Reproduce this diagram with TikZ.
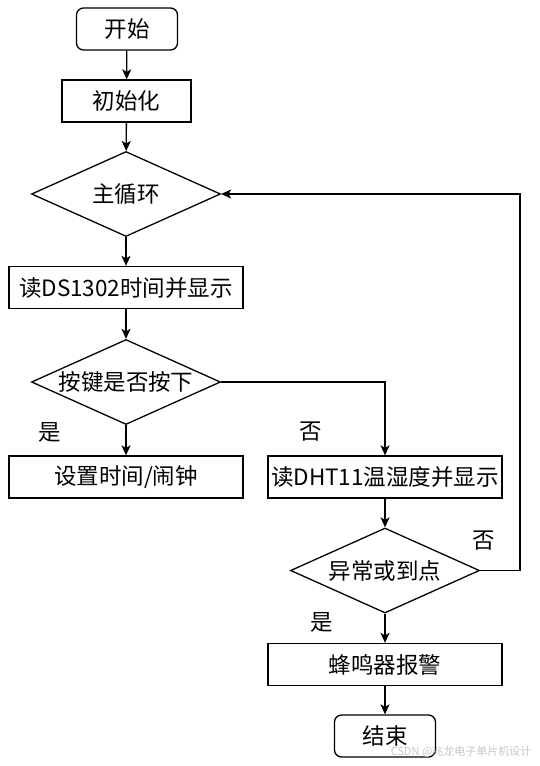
\documentclass[tikz,border=0pt]{standalone}
\usepackage{fontspec}
\setmainfont{Noto Sans CJK SC}
\usepackage{tikz}
\usetikzlibrary{positioning,arrows.meta,shapes.geometric}

\begin{document}
\begin{tikzpicture}[x=1pt,y=-1pt,
  font=\fontsize{22.5}{26}\selectfont,
  boite/.style={draw,line width=1.3pt,minimum height=42pt,inner sep=0pt},
  terminal/.style={boite,rounded corners=7pt,minimum width=101pt},
  action/.style={boite,minimum width=234pt},
  test/.style={draw,line width=1.3pt,diamond,aspect=2.2,inner sep=0pt,
    minimum width=189pt,minimum height=85pt},
  fleche/.style={line width=1.3pt,-{Stealth[length=10pt,width=9pt,inset=2.5pt]}},
  reponse/.style={inner sep=0pt}]
\useasboundingbox (0,0) rectangle (539,766);
% colonne de gauche
\node[terminal] (debut) at (127,29) {开始};
\node[boite,minimum width=129pt] (init) at (126.5,101) {初始化};
\node[test] (boucle) at (126,194) {主循环};
\node[action] (ds) at (126,287.5) {读DS1302时间并显示};
\node[test] (touche) at (126,382) {按键是否按下};
\node[action] (reglage) at (126,477) {设置时间/闹钟};
% colonne de droite
\node[action] (dht) at (385,477) {读DHT11温湿度并显示};
\node[test] (alarme) at (385,570.5) {异常或到点};
\node[action] (buzzer) at (385,664.5) {蜂鸣器报警};
\node[terminal] (fin) at (385,736) {结束};
% réponses
\node[reponse] (oui1) at (50,432) {是};
\node[reponse] (non1) at (311,432) {否};
\node[reponse] (non2) at (484,541) {否};
\node[reponse] (oui2) at (322,622) {是};
\coordinate (retour) at (520,570.5);
% liaisons
\draw[fleche] (debut) -- (init);
\draw[fleche] (init) -- (boucle);
\draw[fleche] (boucle) -- (ds);
\draw[fleche] (ds) -- (touche);
\draw[fleche] (touche) -- (reglage);
\draw[fleche] (touche.east) -| (dht.north);
\draw[fleche] (dht) -- (alarme);
\draw[fleche] (alarme) -- (buzzer);
\draw[fleche] (buzzer) -- (fin);
\draw[fleche] (alarme.east) -- (retour) |- (boucle.east);
% filigrane
\node[anchor=east,text=gray!45,font=\fontsize{11}{13}\selectfont] (filigrane)
  at (535,752) {CSDN @兆龙电子单片机设计};
\end{tikzpicture}
\end{document}
